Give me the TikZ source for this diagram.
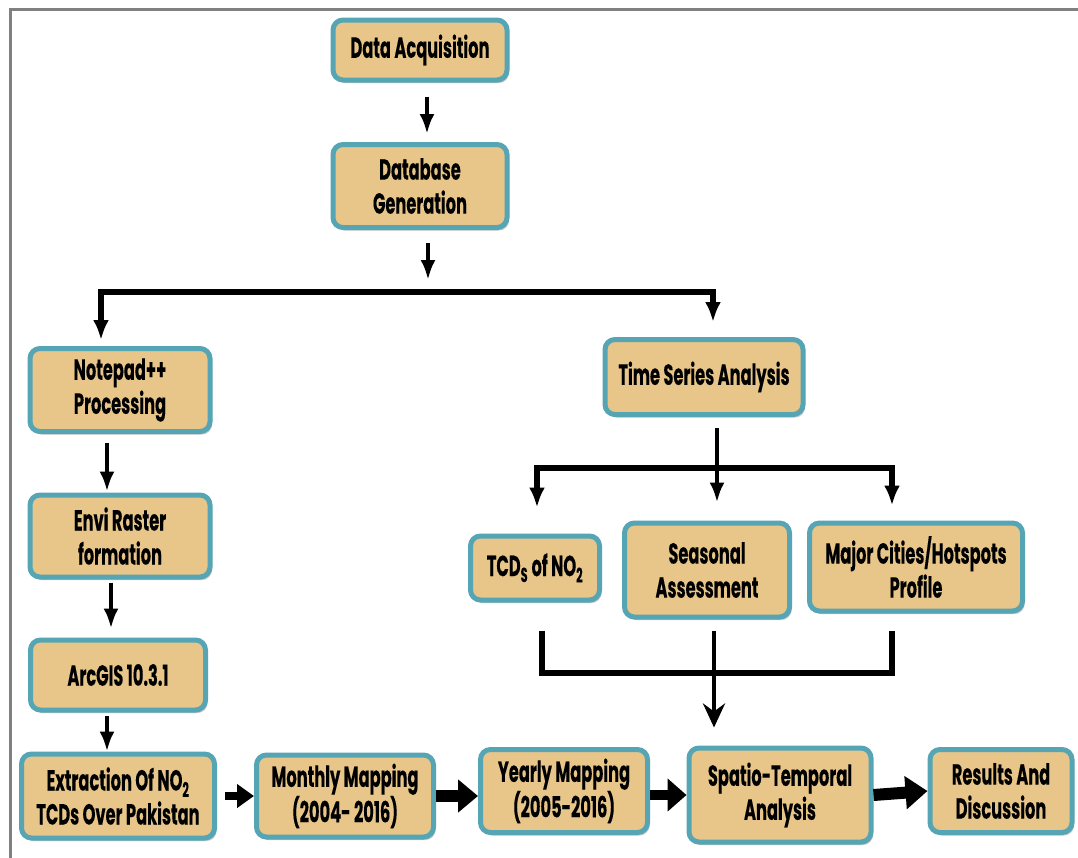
\documentclass[tikz,border=0pt]{standalone}
\usepackage{fontspec}
\setmainfont{Poppins}[FakeStretch=0.56, BoldFeatures={FakeBold=0.2}]
\usetikzlibrary{arrows.meta,shadows}
\definecolor{boxfill}{RGB}{232,198,138}
\definecolor{boxedge}{RGB}{86,165,180}
\definecolor{frameline}{RGB}{128,128,128}
\tikzset{
  box/.style  ={draw=boxedge, fill=boxfill, line width=5pt, rounded corners=10pt, align=center, inner sep=2pt,
                font=\fontsize{29}{34}\selectfont\bfseries,
                drop shadow={shadow xshift=2pt, shadow yshift=-3pt, opacity=0.3, fill=black!70}},
  sz/.style 2 args={minimum width=#1, minimum height=#2},
  link/.style ={draw=black, line width=4.5pt, -{Latex[length=20pt,width=15pt]}},
  fork/.style ={draw=black, line width=5.5pt, {Latex[length=20pt,width=16pt]}-{Latex[length=20pt,width=16pt]}},
  bar/.style  ={draw=black, line width=5.5pt},
  merge/.style={draw=black, line width=4.5pt, -{Stealth[length=24pt,width=22pt,inset=8pt]}},
  blk/.style  ={draw=black, line width=10pt, -{Triangle[length=19pt,width=32pt]}},
}
\begin{document}
\begin{tikzpicture}[x=1pt,y=-1pt]
  \useasboundingbox (0,0) rectangle (1078,857);
  \clip (0,0) rectangle (1078,857);
  \fill[white] (0,0) rectangle (1078,857);
  \draw[frameline, line width=3pt] (10,9) rectangle (1100,880);

  \node[box, sz={174pt}{60pt}] (dataacq) at (420,50) {Data Acquisition};
  \node[box, sz={174pt}{83pt}] (dbgen) at (420,186) {Database\\Generation};
  \node[box, sz={180pt}{83pt}] (notepad) at (120,390) {Notepad++\\Processing};
  \node[box, sz={180pt}{82pt}] (envi) at (120,536) {Envi Raster\\formation};
  \node[box, sz={175pt}{70pt}] (arcgis) at (118,675) {ArcGIS 10.3.1};
  \node[box, sz={193pt}{84pt}] (extract) at (118,796) {Extraction Of NO\textsubscript{2}\\TCDs Over Pakistan};
  \node[box, sz={177pt}{82pt}] (monthly) at (345,796) {Monthly Mapping\\(2004- 2016)};
  \node[box, sz={167pt}{83pt}] (yearly) at (564,791) {Yearly Mapping\\(2005-2016)};
  \node[box, sz={182pt}{94pt}] (spatio) at (780,795) {Spatio-Temporal\\Analysis};
  \node[box, sz={142pt}{83pt}] (results) at (1001,791) {Results And\\Discussion};
  \node[box, sz={198pt}{75pt}] (tsa) at (704,377) {Time Series Analysis};
  \node[box, sz={129pt}{64pt}] (tcds) at (535,568) {TCD\textsubscript{S} of NO\textsubscript{2}};
  \node[box, sz={165pt}{94pt}] (seasonal) at (707,570) {Seasonal\\Assessment};
  \node[box, sz={213pt}{88pt}] (major) at (916,567) {Major Cities/Hotspots\\Profile};

  \coordinate (top) at (428,280);
  \coordinate (splitL) at (101,292);
  \coordinate (splitR) at (713,292);
  \coordinate (mid) at (717,468);
  \coordinate (subL) at (537,468);
  \coordinate (subR) at (892,468);
  \coordinate (joinL) at (542,673);
  \coordinate (joinM) at (714,673);
  \coordinate (joinR) at (892,673);

  \draw[link, shorten <=14pt, shorten >=8pt] ([xshift=7pt]dataacq.south) -- ([xshift=7pt]dbgen.north);
  \draw[link, shorten <=13pt] (dbgen.south -| top) -- (top);
  \draw[fork, shorten <=6pt, shorten >=15pt] (notepad.north -| splitL) -- (splitL) -- (splitR) -- (tsa.north -| splitR);

  \draw[link, shorten <=9pt, shorten >=1pt] ([xshift=-13pt]notepad.south) -- ([xshift=-13pt]notepad.south |- envi.north);
  \draw[link, shorten <=3pt, shorten >=9pt] ([xshift=-9pt]envi.south) -- ([xshift=-9pt]envi.south |- arcgis.north);
  \draw[link, shorten <=3pt] ([xshift=-11pt]arcgis.south) -- ([xshift=-11pt]arcgis.south |- extract.north);

  \draw[link, shorten <=11pt, shorten >=18pt] (tsa.south -| mid) -- (seasonal.north -| mid);
  \draw[fork, shorten <=26pt, shorten >=15pt] (tcds.north -| subL) -- (subL) -- (subR) -- (major.north -| subR);
  \draw[bar, shorten <=28pt, shorten >=17pt] (tcds.south -| joinL) -- (joinL) -- (joinR) -- (major.south -| joinR);
  \draw[merge, shorten <=11pt, shorten >=18pt] (seasonal.south -| joinM) -- (spatio.north -| joinM);

  \draw[blk, line width=8pt, -{Triangle[length=17pt,width=23pt]}, shorten <=8pt] (extract.east) -- (monthly.west);
  \draw[blk, line width=12pt, -{Triangle[length=20pt,width=32pt]}] (monthly.east) -- (monthly.east -| yearly.west);
  \draw[blk] (yearly.east |- spatio.west) -- (spatio.west);
  \draw[blk, line width=12pt, -{Triangle[length=22pt,width=32pt]}] (spatio.east) -- (results.west);
\end{tikzpicture}
\end{document}
